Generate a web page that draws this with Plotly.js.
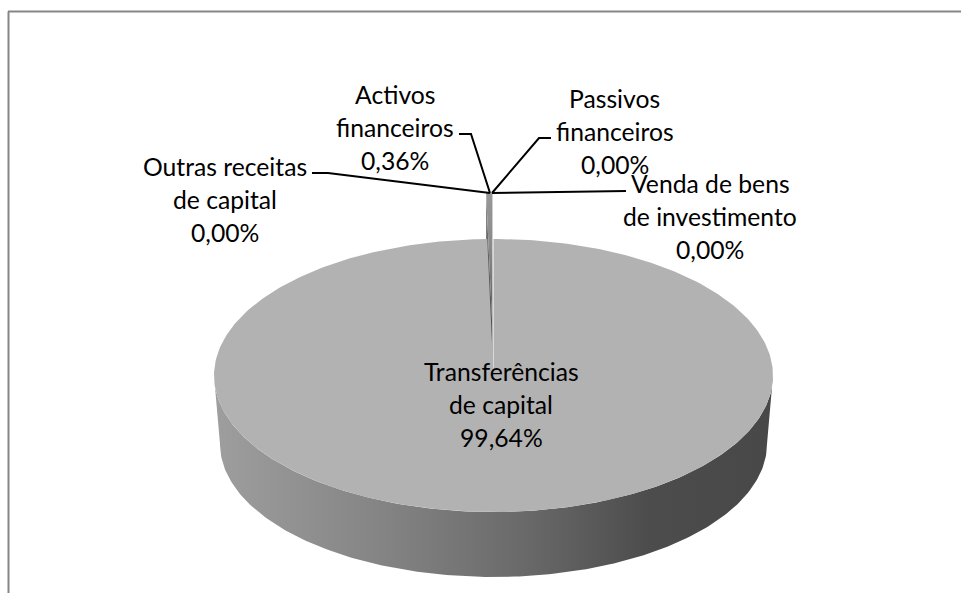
<!DOCTYPE html>
<html><head><meta charset="utf-8">
<script src="https://cdn.plot.ly/plotly-3.0.0.min.js"></script>
<style>html,body{margin:0;padding:0;background:#fff}#c{width:961px;height:593px}</style>
</head><body><div id="c"></div>
<script>
// Data
const categories = ["Transferências de capital","Venda de bens de investimento","Passivos financeiros","Activos financeiros","Outras receitas de capital"];
const values = [99.64,0.00,0.00,0.36,0.00];
const labelLines = [
  ["Transferências","de capital","99,64%"],
  ["Venda de bens","de investimento","0,00%"],
  ["Passivos","financeiros","0,00%"],
  ["Activos","financeiros","0,36%"],
  ["Outras receitas","de capital","0,00%"]
];

// Layout geometry (page pixels are used as the axis unit)
const labelCentreX = [501,710,614.5,394.5,224.5];
const labelFirstY = [371,183,98,94,166];
const lineGap = 33;
const leaders = [
  null,
  {x:[626,492],y:[191,193]},
  {x:[551,539,492],y:[138,138,193]},
  {x:[459,471,490],y:[134,134,193]},
  {x:[312,328,490],y:[173,173,193]}
];
const pie = {cx:493.5,cy:375.5,a:279.5,b:136.5,cyB:444,aB:273.5,bB:133,lift:46};
const total = values.reduce((s,v)=>s+v,0);
const frac = values[0]/total;

function pt(t,cx,cy,a,b){return [cx+a*Math.sin(t),cy-b*Math.cos(t)];}
function arc(t0,t1,n,cx,cy,a,b){const o=[];for(let i=0;i<=n;i++){o.push(pt(t0+(t1-t0)*i/n,cx,cy,a,b));}return o;}
function poly(points,extra){
  return Object.assign({x:points.map(p=>p[0]),y:points.map(p=>p[1]),mode:'lines',fill:'toself',line:{width:0},hoverinfo:'skip',showlegend:false},extra);
}

const traces=[];
// Outer wall of the pie, shaded left to right
const wallPts = arc(Math.PI*1.5,Math.PI/2,200,pie.cx,pie.cy,pie.a,pie.b)
  .concat(arc(Math.PI/2,Math.PI*1.5,200,pie.cx,pie.cyB,pie.aB,pie.bB));
traces.push(poly(wallPts,{fillgradient:{type:'horizontal',start:214,stop:773,
  colorscale:[[0,'#9e9e9e'],[0.3,'#848484'],[0.55,'#6a6a6a'],[0.78,'#4c4c4c'],[1,'#484848']]}}));

// Pulled-out slice: cut face then top face, both derived from its share
const sweep = 2*Math.PI*(1-frac);
const mid = -sweep/2;
const e = pie.lift/pie.b;
const dx = pie.a*e*Math.sin(mid), dy = pie.b*e*Math.cos(mid);
const outerL = pt(-sweep,pie.cx+dx,pie.cy-dy,pie.a,pie.b);
const outerR = pt(0,pie.cx+dx,pie.cy-dy,pie.a,pie.b);
const apex = [pie.cx+dx,pie.cy-dy];
const depth = pie.cyB-pie.cy;
traces.push(poly([outerL,apex,[apex[0],apex[1]+depth],[outerL[0],outerL[1]+depth]],{
  fillgradient:{type:'vertical',start:outerL[1],stop:apex[1]+depth,colorscale:[[0,'#7a7a7a'],[0.5,'#555555'],[1,'#444444']]}}));
traces.push(poly([outerL,outerR,apex],{
  fillgradient:{type:'vertical',start:outerL[1],stop:apex[1],colorscale:[[0,'#989898'],[0.4,'#8a8a8a'],[1,'#5a5a5a']]}}));

// Large slice top face
const bigPts = [[pie.cx,pie.cy]].concat(arc(0,2*Math.PI*frac,400,pie.cx,pie.cy,pie.a,pie.b));
traces.push(poly(bigPts,{fillcolor:'#b2b2b2'}));

// Leader lines
leaders.forEach(l=>{ if(l) traces.push({x:l.x,y:l.y,mode:'lines',line:{color:'#000',width:2},hoverinfo:'skip',showlegend:false}); });

// Labels
const annotations=[];
labelLines.forEach((lines,i)=>lines.forEach((t,j)=>annotations.push({
  x:labelCentreX[i],y:labelFirstY[i]+j*lineGap,xref:'x',yref:'y',text:t,showarrow:false,
  xanchor:'center',yanchor:'middle',font:{family:'Lato, Carlito, sans-serif',size:24.7,color:'#000'}
})));

// Chart-area border visible at top and left
const frame = [
 {type:'line',xref:'x',yref:'y',x0:8.5,x1:8.5,y0:11.5,y1:593,line:{color:'#868686',width:2}},
 {type:'line',xref:'x',yref:'y',x0:8,x1:961,y0:11.5,y1:11.5,line:{color:'#868686',width:2}}
];

Plotly.newPlot('c',traces,{
  width:961,height:593,margin:{l:0,r:0,t:0,b:0},paper_bgcolor:'#fff',plot_bgcolor:'#fff',showlegend:false,
  hovermode:false,
  xaxis:{range:[0,961],visible:false,fixedrange:true},
  yaxis:{range:[593,0],visible:false,fixedrange:true},
  annotations,shapes:frame
},{displayModeBar:false,staticPlot:true});
</script></body></html>
